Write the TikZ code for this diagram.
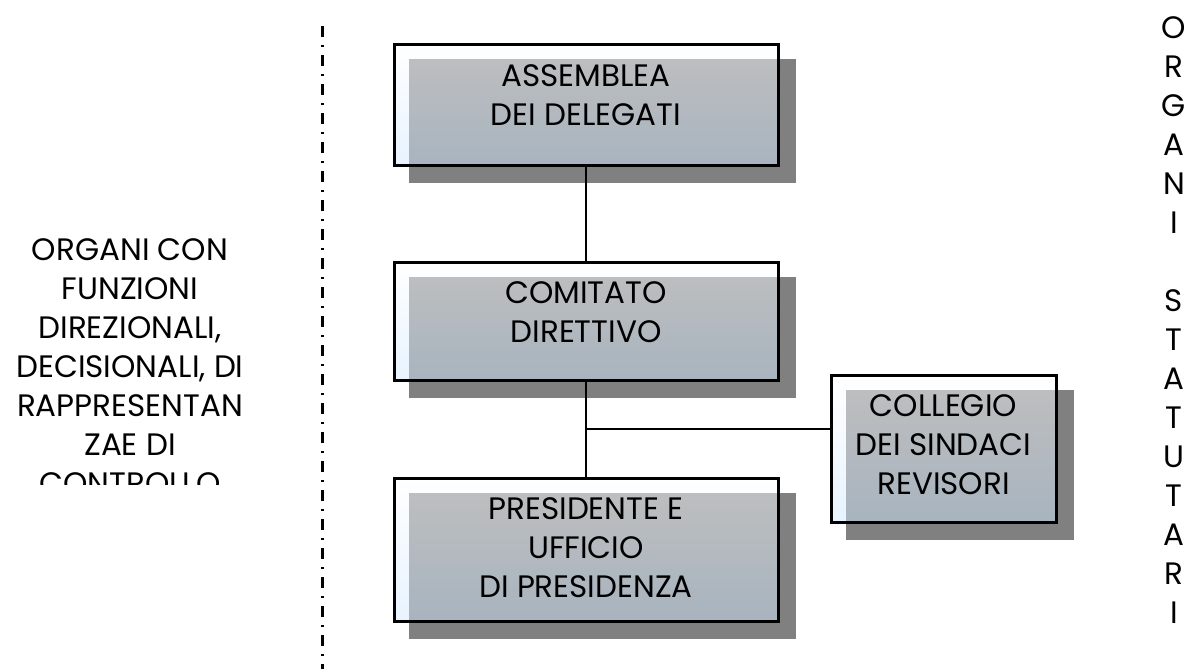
\documentclass[tikz,border=0pt]{standalone}
\usepackage{fontspec}
\setmainfont{Poppins}
\usetikzlibrary{backgrounds}
\definecolor{shadowgray}{HTML}{808080}
\definecolor{paleblue}{HTML}{D0E8FF}
\newcommand{\boxtext}[3]{\parbox[c][#2][t]{#1}{\centering\vspace*{20pt}#3}}
\tikzset{
orgbox/.style={draw=black,line width=3pt,inner sep=0pt,top color=white,bottom color=paleblue,fill opacity=0.5,text opacity=1},
link/.style={line width=2.7pt},
}

\begin{document}
\begin{tikzpicture}[x=1pt,y=-1pt,font=\fontsize{31}{39}\selectfont]
\useasboundingbox (0,0) rectangle (1196,669);

\node (b1) [orgbox] at (586,105) {\boxtext{384pt}{120pt}{ASSEMBLEA\\DEI DELEGATI}};
\node (b2) [orgbox] at (586,321) {\boxtext{384pt}{118pt}{COMITATO\\DIRETTIVO}};
\node (b3) [orgbox] at (586,549.5) {\boxtext{384pt}{143pt}{PRESIDENTE E\\UFFICIO\\DI PRESIDENZA}};
\node (b4) [orgbox] at (943.5,448.5) {\boxtext{225pt}{147pt}{COLLEGIO\\DEI SINDACI\\REVISORI}};

% shadows
\begin{scope}[on background layer]
\foreach \b in {b1,b2,b3,b4}
  \fill[shadowgray] ([shift={(16,16)}]\b.south west) rectangle ([shift={(16,16)}]\b.north east);
\end{scope}

\coordinate (junc) at (586,429);
\draw[link] (b1)--(b2);
\draw[link] (b2)--(b3);
\draw[link] (junc)--(junc -| b4.west);

% separator
\coordinate (septop) at (322,26);
\coordinate (sepbot) at (322,669);
\draw[line width=3pt,dash pattern=on 11pt off 8pt on 2pt off 8pt] (septop)--(sepbot);

\begin{scope}
\clip (0,0) rectangle (310,484);
\node (left) [anchor=north,inner sep=0pt,align=center] at (130,238) {ORGANI CON\\FUNZIONI\\DIREZIONALI,\\DECISIONALI, DI\\RAPPRESENTAN\\ZAE DI\\CONTROLLO};
\end{scope}

\node (right) [anchor=north,inner sep=0pt,align=center] at (1174,16) {O\\R\\G\\A\\N\\I\\[39pt]S\\T\\A\\T\\U\\T\\A\\R\\I};

\end{tikzpicture}
\end{document}
